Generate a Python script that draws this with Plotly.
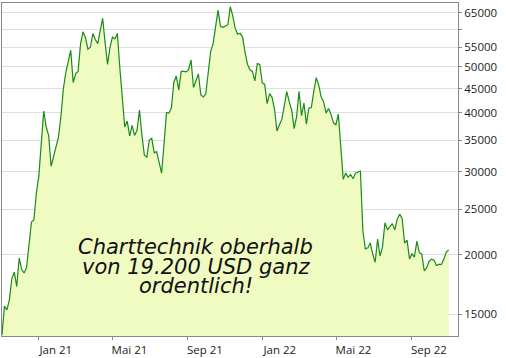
import pandas as pd
import numpy as np
import plotly.graph_objects as go

# BTC/USD, every 4 days from 2020-11-02 to 2022-10-31
start_date = "2020-11-02"
step_days = 4
prices = [
    # Nov 2020
    13550, 15590, 15300, 16070, 17800, 18400, 17150, 19700,
    # Dec 2020
    18650, 18320, 18800, 21300, 23480, 23730, 27080, 29370,
    # Jan 2021
    33990, 40300, 37300, 35800, 30800, 32300, 34300, 35500,
    # Feb 2021
    39250, 44900, 48700, 51600, 54200, 46300, 48400,
    # Mar 2021
    48900, 55900, 59300, 57600, 54500, 55000, 58800, 57100,
    # Apr 2021
    56000, 60200, 63300, 56200, 50600, 55000, 57800,
    # May 2021
    57300, 58800, 49700, 43500, 37300, 38400, 35700, 37600,
    # Jun 2021
    35800, 36700, 40500, 35800, 32500, 32200, 35000, 35300,
    # Jul 2021
    32900, 33100, 31500, 29800, 34300, 40000, 39900,
    # Aug 2021
    40900, 46400, 47800, 44700, 48900, 48900, 48800, 49300,
    # Sep 2021
    51750, 45200, 46900, 48300, 43600, 43200, 43800, 49200,
    # Oct 2021
    53900, 56000, 60900, 65900, 60900, 60600, 61000,
    # Nov 2021
    61400, 67000, 64100, 60300, 58600, 58900, 57800, 53700,
    # Dec 2021
    50600, 49300, 48900, 46700, 50800, 50600, 46300, 45900,
    # Jan 2022
    41800, 43900, 43100, 40700, 36600, 37700, 38700,
    # Feb 2022
    41400, 44300, 42200, 40500, 37000, 39200, 44400,
    # Mar 2022
    39400, 41900, 37800, 40900, 41000, 44300, 47400, 45800,
    # Apr 2022
    43200, 42200, 39900, 40800, 39700, 38100, 37700, 39700,
    # May 2022
    34000, 28900, 29800, 29200, 29600, 29000, 29800,
    # Jun 2022
    29900, 30100, 22500, 20600, 20700, 21200, 20100, 19300,
    # Jul 2022
    21600, 19900, 20800, 23400, 22600, 22900, 23300, 22600,
    # Aug 2022
    23800, 24400, 23900, 21200, 21500, 19600, 20100,
    # Sep 2022
    19800, 21400, 20200, 20100, 18500, 18800, 19400, 19600,
    # Oct 2022
    19500, 19000, 19100, 19100, 19600, 20300, 20500,
]
dates = pd.date_range(start_date, periods=len(prices), freq=f"{step_days}D")

y_tickvals = [15000, 20000, 25000, 30000, 35000, 40000, 45000, 50000, 55000, 60000, 65000]
y_ticktext = ["15000", "20000", "25000", "30000", "35000", "40000", "45000", "50000", "55000", "", "65000"]

x_tickvals = ["2021-01-01", "2021-05-01", "2021-09-01", "2022-01-01", "2022-05-01", "2022-09-01"]
x_ticktext = ["Jan 21", "Mai 21", "Sep 21", "Jan 22", "Mai 22", "Sep 22"]

note_lines = ["Charttechnik oberhalb", "von 19.200 USD ganz", "ordentlich!"]

fig = go.Figure()
fig.add_trace(go.Scatter(
    x=dates, y=prices, mode="lines",
    line=dict(color="#1a8a1a", width=1.2),
    fill="tozeroy", fillcolor="#f0fbc2",
    hoverinfo="skip",
))

axis_font = dict(family="Open Sans, DejaVu Sans, sans-serif", size=11.5, color="#222222")

fig.update_layout(
    width=506, height=358,
    margin=dict(l=2, r=48, t=3, b=22),
    paper_bgcolor="white", plot_bgcolor="white",
    showlegend=False,
    xaxis=dict(
        type="date",
        range=["2020-11-02", "2022-11-15"],
        tickmode="array", tickvals=x_tickvals, ticktext=x_ticktext,
        ticks="outside", ticklen=3, tickcolor="#888888",
        ticklabelshift=17,
        showgrid=False, zeroline=False,
        showline=True, linecolor="#888888", linewidth=1, mirror=True,
        tickfont=axis_font,
    ),
    yaxis=dict(
        type="log", side="right",
        range=[np.log10(13477), np.log10(68240)],
        tickmode="array", tickvals=y_tickvals, ticktext=y_ticktext,
        ticks="outside", ticklen=3, tickcolor="#888888",
        showgrid=True, gridcolor="#dedede", gridwidth=1,
        zeroline=False,
        showline=True, linecolor="#888888", linewidth=1, mirror=True,
        tickfont=axis_font,
    ),
)

line_y = [0.2661, 0.2060, 0.1489]
for txt, yy in zip(note_lines, line_y):
    fig.add_annotation(
        x=0.4254, y=yy, xref="paper", yref="paper",
        text=txt, showarrow=False, xanchor="center", yanchor="middle",
        font=dict(family="DejaVu Sans", size=21, color="#111111", style="italic"),
    )

fig.write_html(
    "out.html",
    config={"displayModeBar": False, "staticPlot": True},
    post_script="document.body.style.margin='0';document.body.style.overflow='hidden';",
)
